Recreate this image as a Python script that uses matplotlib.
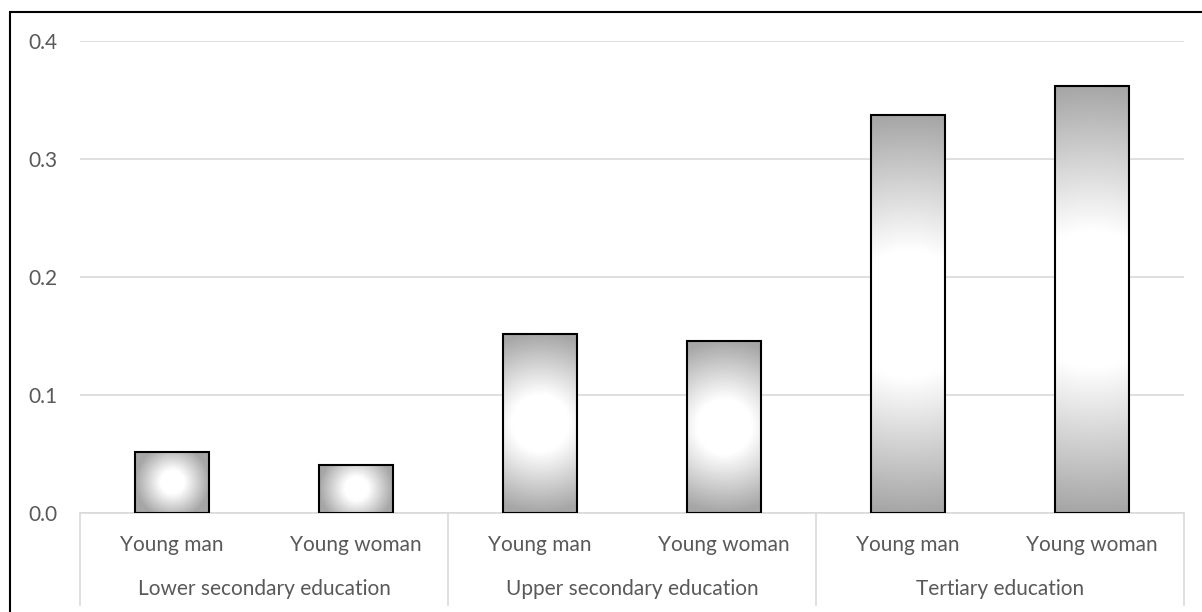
import numpy as np
import matplotlib
matplotlib.use("Agg")
import matplotlib.pyplot as plt
from matplotlib.patches import Rectangle
from matplotlib.colors import LinearSegmentedColormap

# ---- data ----
groups = ["Lower secondary education", "Upper secondary education", "Tertiary education"]
sexes = ["Young man", "Young woman"]
values = [0.052, 0.041, 0.152, 0.146, 0.337, 0.362]
yticks = [0.0, 0.1, 0.2, 0.3, 0.4]

plt.rcParams["font.family"] = ["Lato", "DejaVu Sans"]
text_col = "#595959"
grid_col = "#d9d9d9"

W, H = 1202, 612
fig = plt.figure(figsize=(W / 100, H / 100), dpi=100)
ax = fig.add_axes([80 / W, (H - 513) / H, 1104 / W, (513 - 40.7) / H])

x = np.arange(len(values))
bars = ax.bar(x, values, width=0.405, facecolor="none", edgecolor="black",
              linewidth=1.5, zorder=3)

ax.set_xlim(-0.5, len(values) - 0.5)
ax.set_ylim(0, 0.4)
ax.set_yticks(yticks)
ax.set_yticklabels(["%.1f" % t for t in yticks])
ax.yaxis.grid(True, color=grid_col, linewidth=1.2)
ax.set_axisbelow(True)
ax.tick_params(axis="y", length=0, pad=16.5, labelsize=15, labelcolor=text_col)
ax.set_xticks([])
for s in ["top", "right", "left", "bottom"]:
    ax.spines[s].set_visible(False)

# ---- gradient fill (white centre to gray edge) ----
cmap = LinearSegmentedColormap.from_list(
    "g", [(0.0, "#ffffff"), (0.32, "#ffffff"), (1.0, "#a6a6a6")])
fig.canvas.draw()
for b in bars:
    bx, by, bw, bh = b.get_x(), b.get_y(), b.get_width(), b.get_height()
    p0 = ax.transData.transform((bx, by))
    p1 = ax.transData.transform((bx + bw, by + bh))
    pw, ph = abs(p1[0] - p0[0]), abs(p1[1] - p0[1])
    R = max(pw, ph) / 2
    nx, ny = max(int(pw), 2), max(int(ph), 2)
    xx = (np.linspace(0, pw, nx) - pw / 2)
    yy = (np.linspace(0, ph, ny) - ph / 2)
    X, Y = np.meshgrid(xx, yy)
    d = np.clip(np.sqrt(X ** 2 + Y ** 2) / R, 0, 1)
    im = ax.imshow(d, cmap=cmap, vmin=0, vmax=1, extent=[bx, bx + bw, by, by + bh],
                   origin="lower", aspect="auto", zorder=2, interpolation="bilinear")
    im.set_clip_path(b)
ax.set_xlim(-0.5, len(values) - 0.5)
ax.set_ylim(0, 0.4)
ax.set_aspect("auto")

# ---- category axis ----
trans = ax.get_xaxis_transform()
ax.plot([-0.5, len(values) - 0.5], [0, 0], color=grid_col, lw=1.2,
        transform=trans, clip_on=False, zorder=1)
sep_bottom = (513 - 605) / (513 - 40.7)
for sx in [-0.5, 1.5, 3.5, 5.5]:
    ax.plot([sx, sx], [0, sep_bottom], color=grid_col, lw=1.2,
            transform=trans, clip_on=False)

for i in x:
    ax.text(i, (513 - 545) / (513 - 40.7), sexes[i % 2], transform=trans,
            ha="center", va="center", fontsize=15, color=text_col)
for g, name in enumerate(groups):
    ax.text(2 * g + 0.5, (513 - 589) / (513 - 40.7), name, transform=trans,
            ha="center", va="center", fontsize=15, color=text_col)

# ---- outer frame (cropped on right/bottom) ----
fig.patches.append(Rectangle((10 / W, -0.2), 1.2, (H - 12) / H + 0.2,
                             transform=fig.transFigure, fill=False,
                             edgecolor="black", linewidth=1.5))

fig.savefig("out.png", dpi=100)
